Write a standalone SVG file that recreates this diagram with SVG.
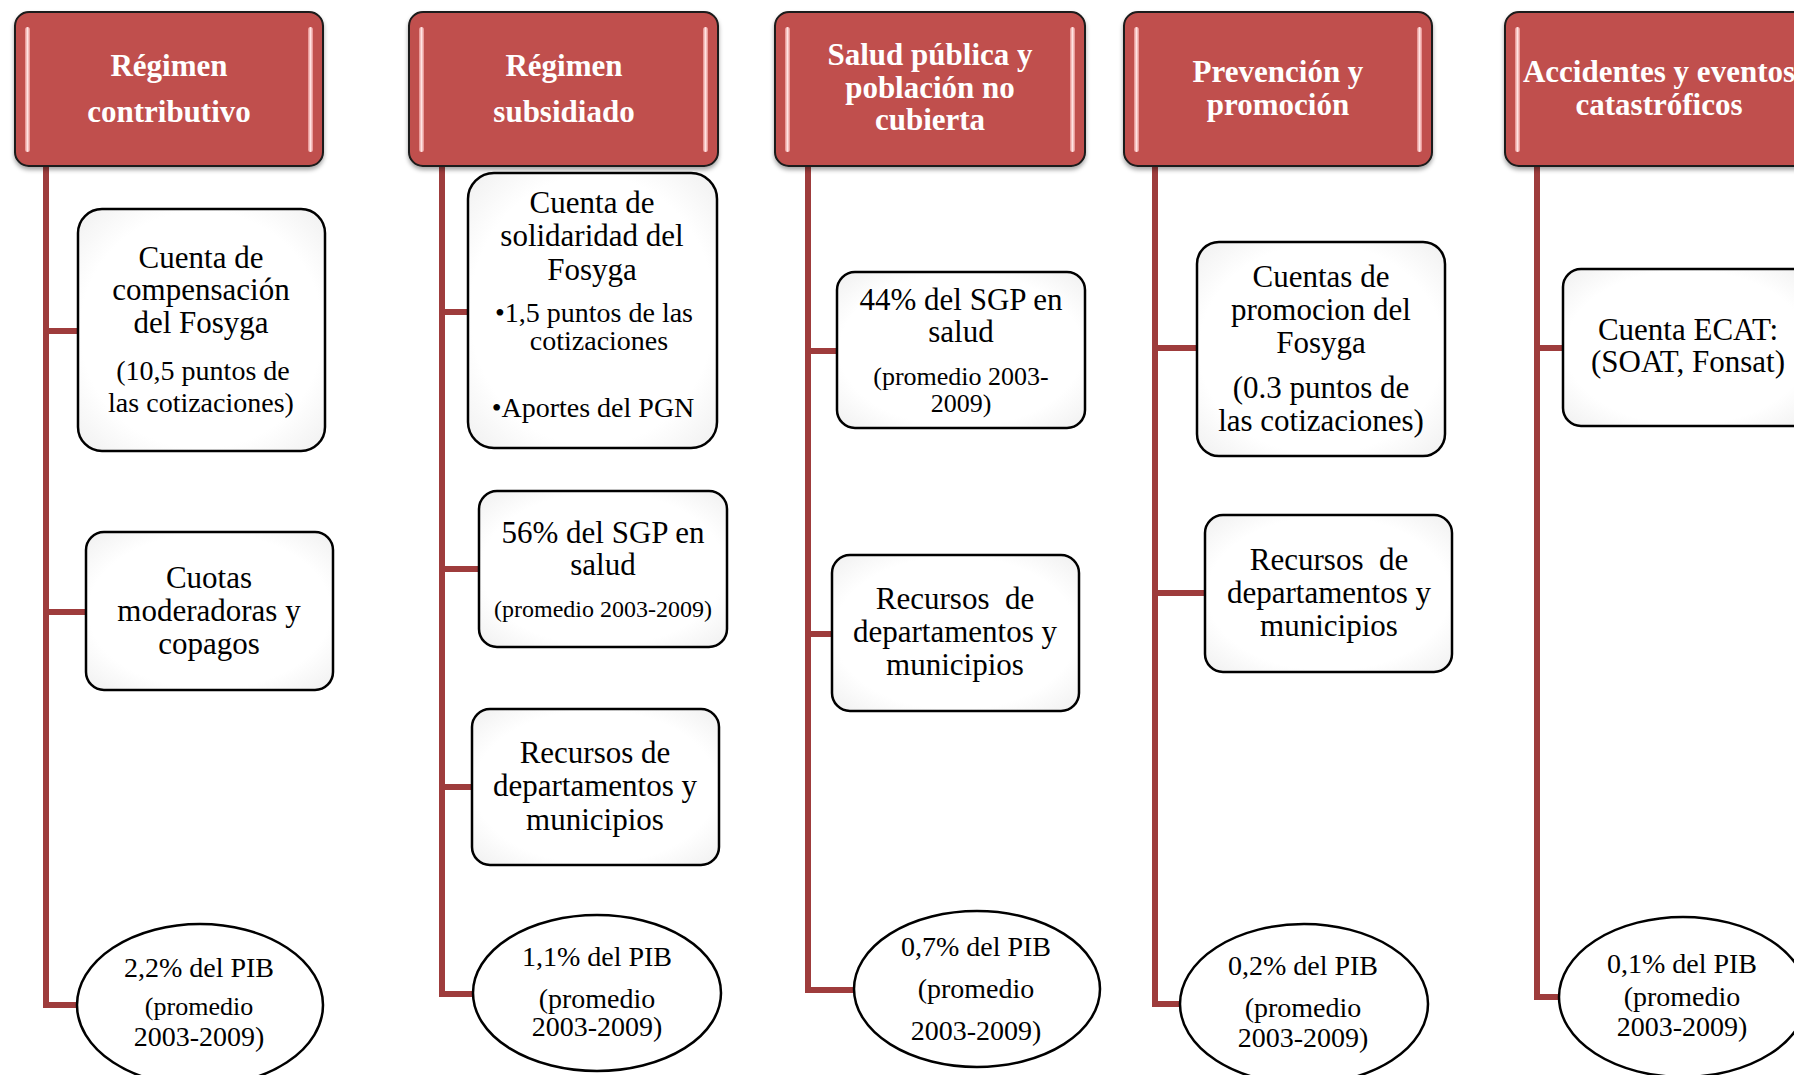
<svg xmlns="http://www.w3.org/2000/svg" width="1794" height="1075" viewBox="0 0 1794 1075">
<style>
.hdr{fill:#C0504D;stroke:#1a1a1a;stroke-width:2}
.hl{fill:url(#hlg)}
.ht{font-family:"Liberation Serif","Times New Roman",serif;font-weight:bold;font-size:31px;fill:#fff;text-anchor:middle}
.box{fill:url(#bxg);stroke:#000;stroke-width:2.5}
.t{font-family:"Liberation Serif","Times New Roman",serif;font-size:31px;fill:#000;text-anchor:middle}
.s{font-size:28px}
.xs{font-size:24px}
.sm{font-size:26px}
.ln{stroke:#9E3C3C;stroke-width:6;fill:none;stroke-linecap:square}
</style>
<defs>
<linearGradient id="hlg" x1="0" y1="0" x2="1" y2="0">
<stop offset="0" stop-color="#E58A88"/>
<stop offset="0.5" stop-color="#FFE4E4"/>
<stop offset="1" stop-color="#E58A88"/>
</linearGradient>
<radialGradient id="bxg" cx="0.5" cy="0.5" r="0.7">
<stop offset="0.7" stop-color="#ffffff"/>
<stop offset="1" stop-color="#f0f0f0"/>
</radialGradient>
<filter id="sh" x="-5%" y="-5%" width="110%" height="120%">
<feDropShadow dx="0" dy="3" stdDeviation="2" flood-color="#000" flood-opacity="0.35"/>
</filter>
</defs>
<rect width="1794" height="1075" fill="#fff"/>

<g id="connectors">
<path class="ln" d="M46 166V1005M46 331H78M46 612H86M46 1005H77"/>
<path class="ln" d="M442 166V994M442 312H468M442 569H479M442 787H472M442 994H473"/>
<path class="ln" d="M808 166V990M808 351H837M808 634H832M808 990H853"/>
<path class="ln" d="M1155 166V1004M1155 348H1197M1155 593H1205M1155 1004H1180"/>
<path class="ln" d="M1537 166V997M1537 348H1563M1537 997H1559"/>
</g>

<g id="h1">
<rect class="hdr" x="15" y="12" width="308" height="154" rx="14" filter="url(#sh)"/>
<rect class="hl" x="25" y="27" width="5" height="125" rx="2.5"/>
<rect class="hl" x="308" y="27" width="5" height="125" rx="2.5"/>
<text class="ht" x="169" y="76">Régimen</text>
<text class="ht" x="169" y="122">contributivo</text>
</g>
<g id="h2">
<rect class="hdr" x="409" y="12" width="309" height="154" rx="14" filter="url(#sh)"/>
<rect class="hl" x="419" y="27" width="5" height="125" rx="2.5"/>
<rect class="hl" x="703" y="27" width="5" height="125" rx="2.5"/>
<text class="ht" x="564" y="76">Régimen</text>
<text class="ht" x="564" y="122">subsidiado</text>
</g>
<g id="h3">
<rect class="hdr" x="775" y="12" width="310" height="154" rx="14" filter="url(#sh)"/>
<rect class="hl" x="785" y="27" width="5" height="125" rx="2.5"/>
<rect class="hl" x="1070" y="27" width="5" height="125" rx="2.5"/>
<text class="ht" x="930" y="65">Salud pública y</text>
<text class="ht" x="930" y="98">población no</text>
<text class="ht" x="930" y="130">cubierta</text>
</g>
<g id="h4">
<rect class="hdr" x="1124" y="12" width="308" height="154" rx="14" filter="url(#sh)"/>
<rect class="hl" x="1134" y="27" width="5" height="125" rx="2.5"/>
<rect class="hl" x="1417" y="27" width="5" height="125" rx="2.5"/>
<text class="ht" x="1278" y="82">Prevención y</text>
<text class="ht" x="1278" y="115">promoción</text>
</g>
<g id="h5">
<rect class="hdr" x="1505" y="12" width="308" height="154" rx="14" filter="url(#sh)"/>
<rect class="hl" x="1515" y="27" width="5" height="125" rx="2.5"/>
<text class="ht" x="1659" y="82">Accidentes y eventos</text>
<text class="ht" x="1659" y="115">catastróficos</text>
</g>

<g id="c1b1">
<rect class="box" x="78" y="209" width="247" height="242" rx="24"/>
<text class="t" x="201" y="268">Cuenta de</text>
<text class="t" x="201" y="300">compensación</text>
<text class="t" x="201" y="333">del Fosyga</text>
<text class="t s" x="203" y="380">(10,5 puntos de</text>
<text class="t s" x="201" y="412">las cotizaciones)</text>
</g>
<g id="c1b2">
<rect class="box" x="86" y="532" width="247" height="158" rx="18"/>
<text class="t" x="209" y="588">Cuotas</text>
<text class="t" x="209" y="621">moderadoras y</text>
<text class="t" x="209" y="654">copagos</text>
</g>
<g id="c1e">
<ellipse class="box" cx="200" cy="1005" rx="123" ry="81"/>
<text class="t s" x="199" y="977">2,2%  del PIB</text>
<text class="t sm" x="199" y="1015">(promedio</text>
<text class="t s" x="199" y="1046">2003-2009)</text>
</g>

<g id="c2b1">
<rect class="box" x="468" y="173" width="249" height="275" rx="26"/>
<text class="t" x="592" y="213">Cuenta de</text>
<text class="t" x="592" y="246">solidaridad del</text>
<text class="t" x="592" y="280">Fosyga</text>
<text class="t s" x="594" y="322">•1,5 puntos de las</text>
<text class="t s" x="599" y="350">cotizaciones</text>
<text class="t s" x="593" y="417">•Aportes del PGN</text>
</g>
<g id="c2b2">
<rect class="box" x="479" y="491" width="248" height="156" rx="18"/>
<text class="t" x="603" y="543">56%  del SGP en</text>
<text class="t" x="603" y="575">salud</text>
<text class="t xs" x="603" y="617">(promedio 2003-2009)</text>
</g>
<g id="c2b3">
<rect class="box" x="472" y="709" width="247" height="156" rx="18"/>
<text class="t" x="595" y="763">Recursos de</text>
<text class="t" x="595" y="796">departamentos y</text>
<text class="t" x="595" y="830">municipios</text>
</g>
<g id="c2e">
<ellipse class="box" cx="597" cy="993" rx="124" ry="78"/>
<text class="t s" x="597" y="966">1,1%  del PIB</text>
<text class="t s" x="597" y="1008">(promedio</text>
<text class="t s" x="597" y="1036">2003-2009)</text>
</g>

<g id="c3b1">
<rect class="box" x="837" y="272" width="248" height="156" rx="18"/>
<text class="t" x="961" y="310">44%  del SGP en</text>
<text class="t" x="961" y="342">salud</text>
<text class="t sm" x="961" y="385">(promedio 2003-</text>
<text class="t sm" x="961" y="412">2009)</text>
</g>
<g id="c3b2">
<rect class="box" x="832" y="555" width="247" height="156" rx="18"/>
<text class="t" x="955" y="609" xml:space="preserve">Recursos  de</text>
<text class="t" x="955" y="642">departamentos y</text>
<text class="t" x="955" y="675">municipios</text>
</g>
<g id="c3e">
<ellipse class="box" cx="977" cy="989" rx="123" ry="78"/>
<text class="t s" x="976" y="956">0,7%  del PIB</text>
<text class="t s" x="976" y="998">(promedio</text>
<text class="t s" x="976" y="1040">2003-2009)</text>
</g>

<g id="c4b1">
<rect class="box" x="1197" y="242" width="248" height="214" rx="22"/>
<text class="t" x="1321" y="287">Cuentas de</text>
<text class="t" x="1321" y="320">promocion del</text>
<text class="t" x="1321" y="353">Fosyga</text>
<text class="t" x="1321" y="398">(0.3 puntos de</text>
<text class="t" x="1321" y="431">las cotizaciones)</text>
</g>
<g id="c4b2">
<rect class="box" x="1205" y="515" width="247" height="157" rx="18"/>
<text class="t" x="1329" y="570" xml:space="preserve">Recursos  de</text>
<text class="t" x="1329" y="603">departamentos y</text>
<text class="t" x="1329" y="636">municipios</text>
</g>
<g id="c4e">
<ellipse class="box" cx="1304" cy="1004" rx="124" ry="80"/>
<text class="t s" x="1303" y="975">0,2%  del PIB</text>
<text class="t s" x="1303" y="1017">(promedio</text>
<text class="t s" x="1303" y="1047">2003-2009)</text>
</g>

<g id="c5b1">
<rect class="box" x="1563" y="269" width="248" height="157" rx="18"/>
<text class="t" x="1688" y="340">Cuenta ECAT:</text>
<text class="t" x="1688" y="372">(SOAT, Fonsat)</text>
</g>
<g id="c5e">
<ellipse class="box" cx="1683" cy="997" rx="124" ry="80"/>
<text class="t s" x="1682" y="973">0,1% del PIB</text>
<text class="t s" x="1682" y="1006">(promedio</text>
<text class="t s" x="1682" y="1036">2003-2009)</text>
</g>
</svg>
